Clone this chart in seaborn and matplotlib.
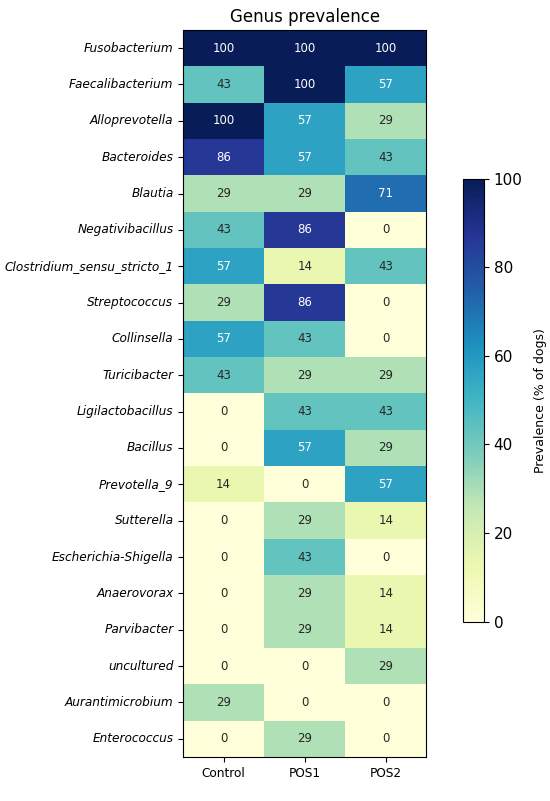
import numpy as np
import pandas as pd
import matplotlib
matplotlib.use("Agg")
import matplotlib.pyplot as plt
import seaborn as sns

genera = ["Fusobacterium", "Faecalibacterium", "Alloprevotella", "Bacteroides",
          "Blautia", "Negativibacillus", "Clostridium_sensu_stricto_1",
          "Streptococcus", "Collinsella", "Turicibacter", "Ligilactobacillus",
          "Bacillus", "Prevotella_9", "Sutterella", "Escherichia-Shigella",
          "Anaerovorax", "Parvibacter", "uncultured", "Aurantimicrobium",
          "Enterococcus"]
groups = ["Control", "POS1", "POS2"]

control = [100, 43, 100, 86, 29, 43, 57, 29, 57, 43, 0, 0, 14, 0, 0, 0, 0, 0, 29, 0]
pos1 = [100, 100, 57, 57, 29, 86, 14, 86, 43, 29, 43, 57, 0, 29, 43, 29, 29, 0, 0, 29]
pos2 = [100, 57, 29, 43, 71, 0, 43, 0, 0, 29, 43, 29, 57, 14, 0, 14, 14, 29, 0, 0]

df = pd.DataFrame({"Control": control, "POS1": pos1, "POS2": pos2}, index=genera)

fig = plt.figure(figsize=(5.5, 8.01), dpi=100)
ax = fig.add_axes([0.333, 0.055, 0.442, 0.9076])
cax = fig.add_axes([0.842, 0.224, 0.038, 0.553])

sns.heatmap(df, ax=ax, cbar_ax=cax, cmap="YlGnBu", vmin=0, vmax=100,
            annot=True, fmt="d", annot_kws={"fontsize": 8.5},
            cbar_kws={"label": "Prevalence (% of dogs)"})

for s in ax.spines.values():
    s.set_visible(True)
    s.set_linewidth(0.8)

ax.set_title("Genus prevalence", fontsize=12, pad=6)
ax.tick_params(axis="y", labelsize=8.7, length=3.5, rotation=0)
ax.tick_params(axis="x", labelsize=8.7, length=3.5, rotation=0)
for lab in ax.get_yticklabels():
    lab.set_fontstyle("italic")

cax.tick_params(labelsize=11, length=3.5)
cax.set_ylabel("Prevalence (% of dogs)", fontsize=9, labelpad=8)
cax.set_yticks([0, 20, 40, 60, 80, 100])
cbar = ax.collections[0].colorbar
cbar.outline.set_visible(True)
cbar.outline.set_linewidth(0.8)

fig.savefig("out.png", dpi=100)
